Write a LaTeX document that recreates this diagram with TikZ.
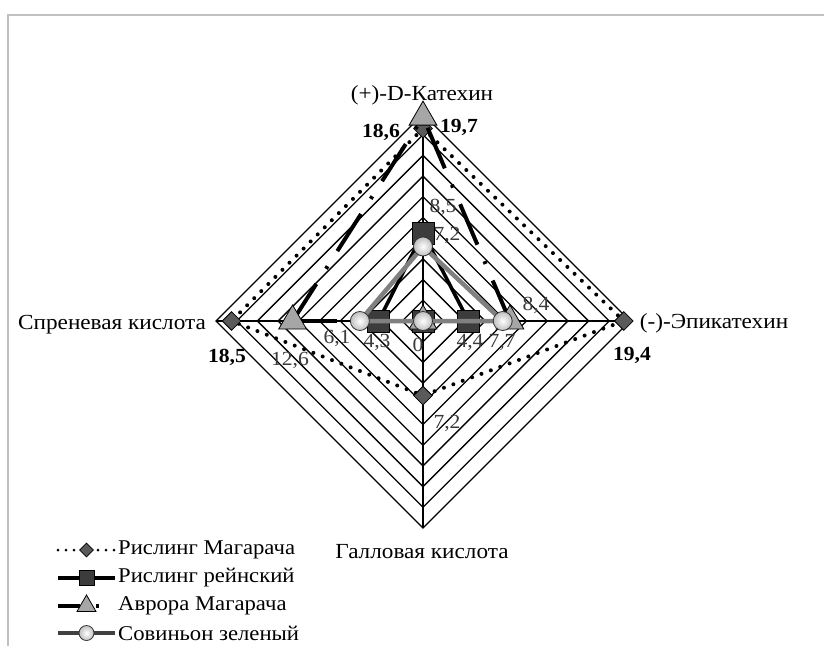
\documentclass[tikz,border=0pt]{standalone}
\usepackage{fontspec}
\setmainfont{Liberation Serif}[FakeStretch=1.08]
\usetikzlibrary{shapes.geometric}
\definecolor{framegray}{HTML}{C0C0C0}
\definecolor{dmfill}{HTML}{5A5A5A}
\definecolor{smfill}{HTML}{3C3C3C}
\definecolor{tmfill}{HTML}{A6A6A6}
\definecolor{sovgray}{HTML}{808080}
\definecolor{lblgray}{HTML}{3A3A3A}
\begin{document}
\begin{tikzpicture}[x=1pt,y=-1pt,
  gridline/.style={line width=1.3pt,black},
  ser1/.style={line width=4pt,black,dash pattern=on 0pt off 10pt,line cap=round},
  ser2/.style={line width=3.6pt,black},
  ser3/.style={line width=4pt,black,dash pattern=on 44pt off 18pt on 3pt off 18pt},
  ser4/.style={line width=4.5pt,sovgray},
  dmark/.style={diamond,draw=black,line width=0.8pt,fill=dmfill,minimum width=19pt,minimum height=19pt,inner sep=0pt},
  smark/.style={rectangle,draw=black,line width=0.8pt,fill=smfill,minimum width=22pt,minimum height=22pt,inner sep=0pt},
  tmark/.style={regular polygon,regular polygon sides=3,draw=black,line width=0.8pt,fill=tmfill,minimum size=32pt,inner sep=0pt},
  cmark/.style={circle,draw=black!80,line width=0.8pt,inner color=white,outer color=black!25,minimum size=19pt,inner sep=0pt},
  axlbl/.style={font=\fontsize{21.5}{24}\selectfont,inner sep=0pt},
  vlbl/.style={font=\fontsize{20}{24}\selectfont,inner sep=0pt,text=lblgray},
  blbl/.style={font=\fontsize{20}{24}\selectfont\bfseries,inner sep=0pt},
  leglbl/.style={font=\fontsize{21}{22}\selectfont,inner sep=0pt,anchor=west}
]
\useasboundingbox (0,0) rectangle (824,646);
\fill[white] (0,0) rectangle (824,646);
% frame
\draw[framegray,line width=2pt] (8,646) -- (8,15) -- (824,15);

\def\cx{423}\def\cy{321}\def\sc{10.35}
% grid rings
\foreach \k in {1,...,10}{
  \draw[gridline] (\cx,\cy-20.7*\k) -- (\cx+20.7*\k,\cy) -- (\cx,\cy+20.7*\k) -- (\cx-20.7*\k,\cy) -- cycle;
}
\coordinate (axT) at (\cx,\cy-207);
\coordinate (axB) at (\cx,\cy+207);
\coordinate (axL) at (\cx-207,\cy);
\coordinate (axR) at (\cx+207,\cy);
\draw[gridline] (axT) -- (axB);
\draw[gridline] (axL) -- (axR);

% series 1: Рислинг Магарача
\coordinate (a1) at (\cx,\cy-18.6*\sc);
\coordinate (b1) at (\cx+19.4*\sc,\cy);
\coordinate (c1) at (\cx,\cy+7.2*\sc);
\coordinate (d1) at (\cx-18.5*\sc,\cy);
\draw[ser1] (a1) -- (b1) -- (c1) -- (d1) -- cycle;
\foreach \p in {a1,b1,c1,d1}{\node[dmark] (m\p) at (\p) {};}

% series 2: Рислинг рейнский
\coordinate (a2) at (\cx,\cy-8.5*\sc);
\coordinate (b2) at (\cx+4.4*\sc,\cy);
\coordinate (c2) at (\cx,\cy);
\coordinate (d2) at (\cx-4.3*\sc,\cy);
\draw[ser2] (a2) -- (b2) -- (c2) -- (d2) -- cycle;
\foreach \p in {a2,b2,c2,d2}{\node[smark] (m\p) at (\p) {};}

% series 3: Аврора Магарача
\coordinate (a3) at (\cx,\cy-19.7*\sc);
\coordinate (b3) at (\cx+8.4*\sc,\cy);
\coordinate (c3) at (\cx,\cy);
\coordinate (d3) at (\cx-12.6*\sc,\cy);
\draw[ser3] (b3) -- (a3);
\draw[ser3] (d3) -- (a3);
\draw[ser3] (d3) -- (c3);
\draw[ser3] (b3) -- (c3);
\foreach \p in {a3,b3,c3,d3}{\node[tmark] (m\p) at (\p) {};}

% series 4: Совиньон зеленый
\coordinate (a4) at (\cx,\cy-7.2*\sc);
\coordinate (b4) at (\cx+7.7*\sc,\cy);
\coordinate (c4) at (\cx,\cy);
\coordinate (d4) at (\cx-6.1*\sc,\cy);
\draw[ser4] (a4) -- (b4) -- (c4) -- (d4) -- cycle;
\foreach \p in {a4,b4,c4,d4}{\node[cmark] (m\p) at (\p) {};}

% axis labels
\node[axlbl] (lT) at (422,95) {(+)-D-Катехин};
\node[axlbl] (lR) at (714,323) {(-)-Эпикатехин};
\node[axlbl] (lB) at (422,552) {Галловая кислота};
\node[axlbl] (lL) at (112,325) {Спреневая кислота};

% value labels
\node[blbl] (v186) at (381,132) {18,6};
\node[blbl] (v197) at (459,127) {19,7};
\node[vlbl] (v85)  at (443,207) {8,5};
\node[vlbl] (v72t) at (447,235) {7,2};
\node[vlbl] (v84)  at (536,305) {8,4};
\node[vlbl] (v77)  at (502,342) {7,7};
\node[vlbl] (v44)  at (470,342) {4,4};
\node[vlbl] (v0)   at (418,345) {0};
\node[vlbl] (v43)  at (377,342) {4,3};
\node[vlbl] (v61)  at (337,338) {6,1};
\node[vlbl] (v126) at (290,360) {12,6};
\node[blbl] (v185) at (227,357) {18,5};
\node[blbl] (v194) at (632,355) {19,4};
\node[vlbl] (v72b) at (447,423) {7,2};

% legend
\coordinate (g1a) at (58,550); \coordinate (g1b) at (115,550); \coordinate (g1m) at (86.5,550);
\draw[ser1,line width=3pt,dash pattern=on 0pt off 8pt] (g1a) -- (g1b);
\node[dmark,minimum width=14pt,minimum height=14pt] (gm1) at (g1m) {};
\node[leglbl] (gt1) at (118,550) {Рислинг Магарача};

\coordinate (g2a) at (58,578); \coordinate (g2b) at (115,578); \coordinate (g2m) at (86.5,578);
\draw[ser2] (g2a) -- (g2b);
\node[smark,minimum width=15pt,minimum height=15pt] (gm2) at (g2m) {};
\node[leglbl] (gt2) at (118,578) {Рислинг рейнский};

\coordinate (g3a) at (58,606); \coordinate (g3b) at (115,606); \coordinate (g3m) at (86.5,606);
\draw[ser3,dash pattern=on 22pt off 16pt on 3pt off 20pt] (g3a) -- (g3b);
\node[tmark,minimum size=22pt] (gm3) at (g3m) {};
\node[leglbl] (gt3) at (118,606) {Аврора Магарача};

\coordinate (g4a) at (58,633); \coordinate (g4b) at (115,633); \coordinate (g4m) at (86.5,633);
\draw[line width=3.5pt,black!75] (g4a) -- (g4b);
\node[cmark,minimum size=15pt] (gm4) at (g4m) {};
\node[leglbl] (gt4) at (118,633) {Совиньон зеленый};
\end{tikzpicture}
\end{document}
